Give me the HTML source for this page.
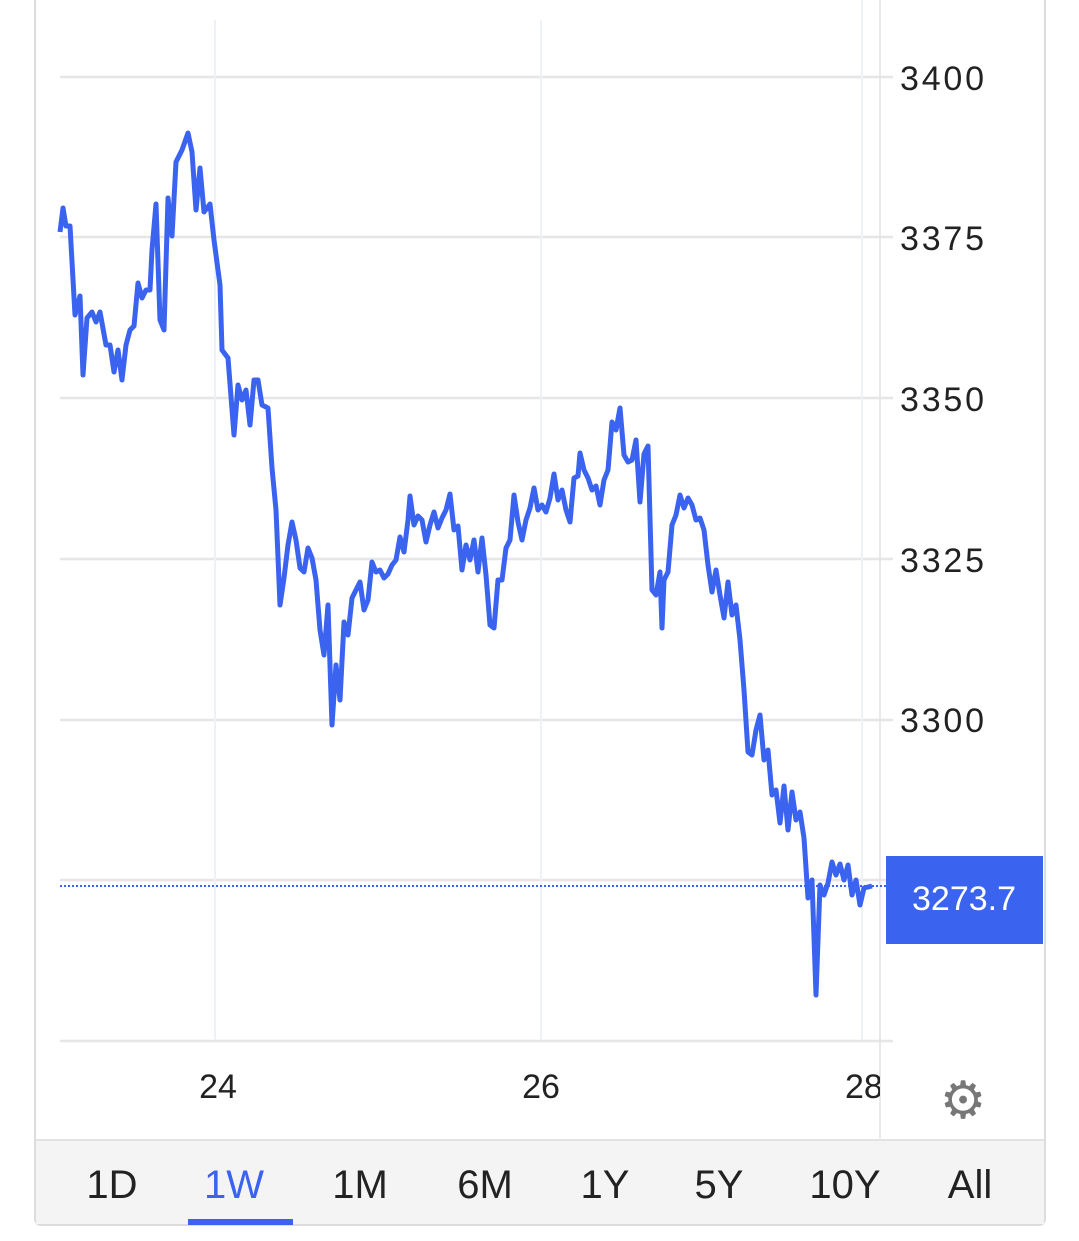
<!DOCTYPE html>
<html><head><meta charset="utf-8"><style>
body{margin:0;width:1079px;height:1241px;background:#fff;overflow:hidden;font-family:"Liberation Sans","DejaVu Sans",sans-serif}
</style></head><body>
<svg width="1079" height="1241" xmlns="http://www.w3.org/2000/svg" style="position:absolute;left:0;top:0">
<defs><clipPath id="c"><rect x="0" y="1050" width="880" height="80"/></clipPath></defs>
<rect x="35" y="-5" width="1010" height="1230" rx="6" fill="#fff" stroke="#dcdcdc" stroke-width="2"/>
<rect x="36" y="1140" width="1008" height="84" fill="#f4f4f4"/>
<line x1="36" y1="1140" x2="1044" y2="1140" stroke="#e2e2e2" stroke-width="2"/>
<g stroke="#e6e6e6" stroke-width="2.5">
<line x1="60" y1="77" x2="893" y2="77"/><line x1="60" y1="237" x2="893" y2="237"/>
<line x1="60" y1="398" x2="893" y2="398"/><line x1="60" y1="559" x2="893" y2="559"/>
<line x1="60" y1="720" x2="893" y2="720"/><line x1="60" y1="880" x2="893" y2="880"/>
<line x1="60" y1="1041" x2="893" y2="1041"/>
</g>
<g stroke="#eef1f5" stroke-width="2">
<line x1="215" y1="20" x2="215" y2="1040"/><line x1="541" y1="20" x2="541" y2="1040"/><line x1="862" y1="0" x2="862" y2="1040"/>
</g>
<line x1="880" y1="0" x2="880" y2="1138" stroke="#e2e2e2" stroke-width="1.5"/>
<g font-size="34" fill="#222">
<text x="900" y="90" textLength="84">3400</text><text x="900" y="250" textLength="84">3375</text><text x="900" y="411" textLength="84">3350</text>
<text x="900" y="572" textLength="84">3325</text><text x="900" y="732" textLength="84">3300</text>
<text x="218" y="1098" text-anchor="middle">24</text><text x="541" y="1098" text-anchor="middle">26</text>
<text x="845" y="1098" clip-path="url(#c)">28</text>
</g>
<text x="963" y="1118" font-size="52" fill="#777" text-anchor="middle">⚙</text>
<line x1="60" y1="886" x2="886" y2="886" stroke="#3a63f0" stroke-width="2" stroke-dasharray="2,2"/>
<rect x="886" y="856" width="157" height="88" fill="#3a63f0"/>
<text x="964" y="910" font-size="34" fill="#fff" text-anchor="middle">3273.7</text>
<polyline fill="none" stroke="#3a63f0" stroke-width="5" stroke-linejoin="round" points="
60,232 63,208 66,226 70,226 75,315 80,296 83,375 87,318 92,312 96,322 100,312 106,345 110,345 114,372 118,350 122,380 126,345 130,330 134,326 138,283 142,298 146,290 150,290 152,250 156,204 160,320 164,330 168,198 172,236 176,162 182,150 188,133 192,152 196,210 200,168 204,212 210,204 214,240 220,285 222,350 228,358 234,435 238,385 242,400 246,390 250,425 254,380 258,380 262,405 268,408 272,468 276,510 280,605 284,578 288,545 292,522 296,540 300,568 304,572 308,548 312,558 316,580 320,630 324,655 328,605 332,725 336,665 340,700 344,622 348,635 352,598 356,590 360,582 364,610 368,600 372,562 376,572 380,570 384,578 388,574 392,565 396,560 400,537 404,552 408,520 410,496 414,525 418,516 422,520 426,542 430,525 434,512 438,528 442,518 446,510 450,494 454,530 458,526 462,570 466,545 470,560 474,540 478,572 482,538 486,575 490,625 494,628 498,580 502,580 506,548 510,540 514,495 518,522 522,540 526,520 530,508 534,488 538,510 542,505 546,512 550,498 554,474 558,500 562,490 566,510 570,522 574,478 578,476 580,453 584,470 588,478 592,490 596,486 600,505 604,480 608,470 612,422 616,430 620,408 624,455 628,462 632,460 636,440 640,502 644,454 648,446 652,590 656,595 660,572 662,628 664,580 668,572 672,525 676,515 680,495 684,508 688,498 692,505 696,520 700,518 704,530 708,565 712,592 716,570 720,595 724,618 728,582 732,615 736,605 740,640 744,690 748,752 752,755 756,730 760,715 764,760 768,750 772,795 776,790 780,823 784,786 788,830 792,792 796,820 800,812 804,838 808,898 812,880 816,995 820,885 824,895 828,883 832,862 836,875 840,864 844,880 848,865 852,895 856,880 860,905 864,888 872,886"/>
<g font-size="40" fill="#222" text-anchor="middle">
<text x="112" y="1198">1D</text><text x="234" y="1198" fill="#3a63f0">1W</text><text x="360" y="1198">1M</text>
<text x="485" y="1198">6M</text><text x="605" y="1198">1Y</text><text x="719" y="1198">5Y</text>
<text x="845" y="1198">10Y</text><text x="970" y="1198">All</text>
</g>
<rect x="188" y="1219" width="105" height="6" fill="#3a63f0"/>
</svg>
</body></html>
